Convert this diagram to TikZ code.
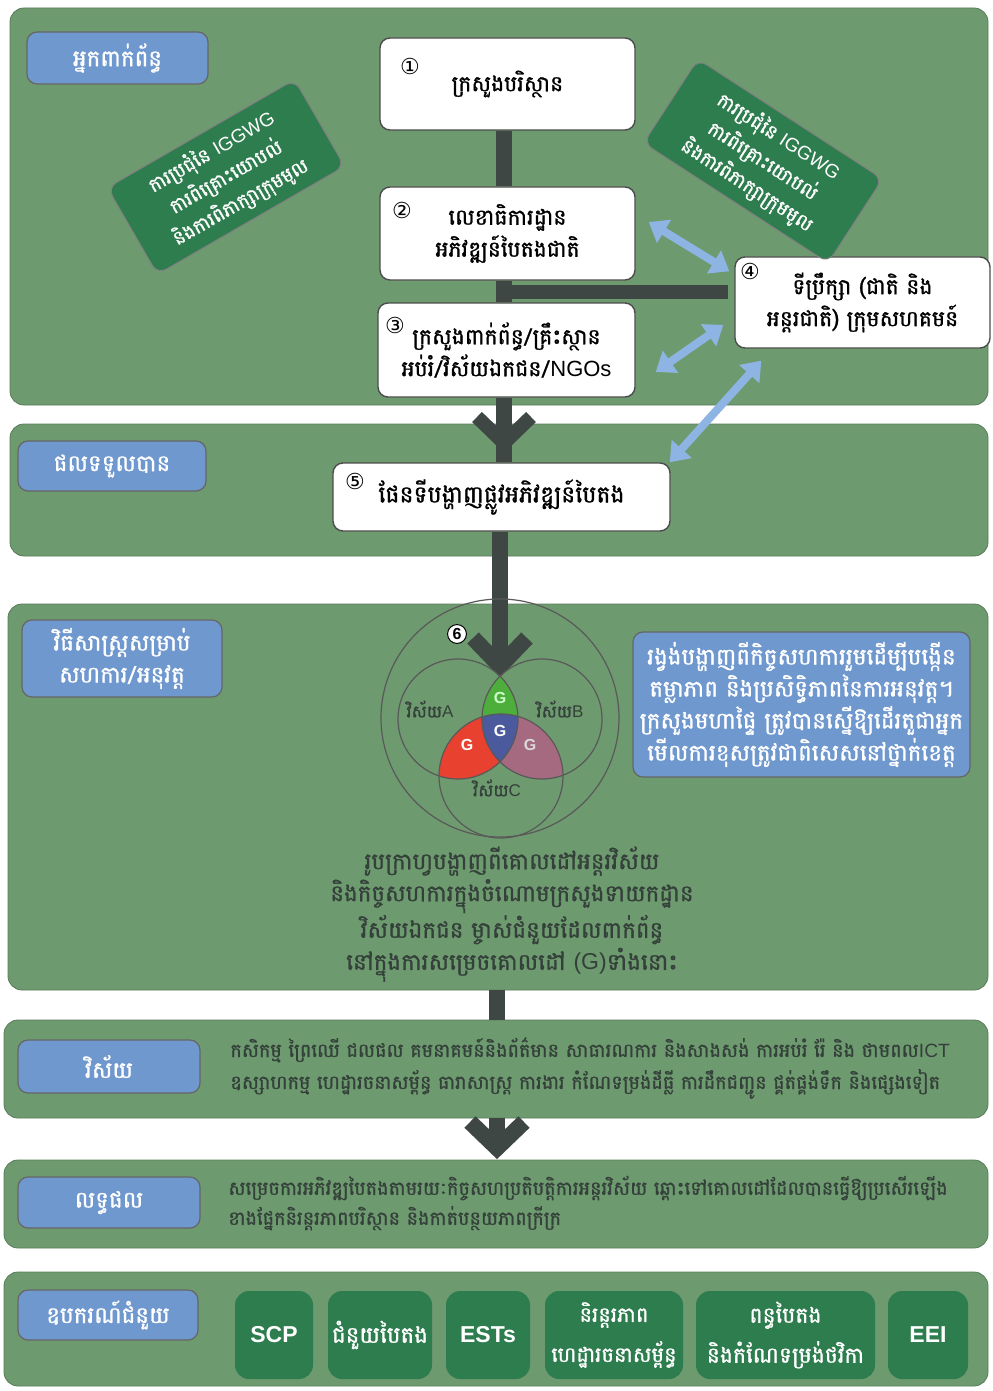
\documentclass[tikz,border=0pt]{standalone}
\usepackage{fontspec}
\setmainfont{Liberation Sans}
\newfontfamily\kh[Script=Khmer,FakeBold=1.2]{Battambang}
\newfontfamily\circfont{DejaVu Sans}
\newcommand\lat[1]{{\normalfont #1}}
\usetikzlibrary{arrows.meta}
\definecolor{pgreen}{HTML}{6E9A6F}
\definecolor{lblue}{HTML}{6F98CF}
\definecolor{dgreen}{HTML}{2E7D4F}
\definecolor{dline}{HTML}{3F4744}
\definecolor{abl}{HTML}{8DB4E2}
\definecolor{txtd}{HTML}{34413A}
\definecolor{vgreen}{HTML}{4DAE3C}
\definecolor{vblue}{HTML}{4A5A9C}
\definecolor{vred}{HTML}{E8412F}
\definecolor{vmauve}{HTML}{A56A80}
\begin{document}
\begin{tikzpicture}[x=0.5pt,y=-0.5pt,
 panel/.style={fill=pgreen, draw=pgreen!80!black, line width=0.4pt, rounded corners=7pt, inner sep=0pt},
 lab/.style={fill=lblue, draw=black!60, line width=0.6pt, rounded corners=5pt, text=white, inner sep=0pt, align=center, font=\kh\fontsize{11.5}{16}\selectfont},
 wbox/.style={fill=white, draw=black!70, line width=0.7pt, rounded corners=5pt, inner sep=0pt, align=center, font=\kh\fontsize{11}{16}\selectfont},
 gbox/.style={fill=dgreen, draw=black!50, line width=0.5pt, rounded corners=5pt, text=white, inner sep=0pt, align=center, font=\kh\fontsize{9.5}{14.5}\selectfont},
 tool/.style={fill=dgreen, rounded corners=7pt, text=white, inner sep=0pt, align=center, minimum height=44pt, font=\kh\fontsize{11.5}{20}\selectfont},
 num/.style={font=\circfont\fontsize{11}{11}\selectfont, inner sep=0pt},
 dk/.style={draw=dline, line width=8pt},
 chev/.style={draw=dline, line width=7pt, line join=miter, line cap=butt},
 barrow/.style={draw=abl, line width=4pt, {Triangle[length=9pt,width=13pt]}-{Triangle[length=9pt,width=13pt]}},
 body/.style={text=txtd, inner sep=0pt, font=\kh\fontsize{9.8}{16}\selectfont},
 vc/.style={draw=black!65, line width=0.6pt},
 gl/.style={font=\bfseries\fontsize{8}{8}\selectfont, text=white, inner sep=0pt},
 vl/.style={font=\kh\fontsize{8.5}{10}\selectfont, text=txtd, inner sep=0pt}
]
\useasboundingbox (0,0) rectangle (992,1391);
\fill[white] (0,0) rectangle (992,1391);

% panels
\node[panel, minimum width=489pt, minimum height=198.5pt] (p1) at (499,206.5) {};
\node[panel, minimum width=489pt, minimum height=66pt] (p2) at (499,490) {};
\node[panel, minimum width=490pt, minimum height=193pt] (p3) at (498,797) {};
\node[panel, minimum width=492pt, minimum height=49pt] (p4) at (496,1069) {};
\node[panel, minimum width=492pt, minimum height=44pt] (p5) at (496,1204) {};
\node[panel, minimum width=492pt, minimum height=57pt] (p6) at (496,1329) {};

% labels
\node[lab, minimum width=90.5pt, minimum height=26pt] (l1) at (117.5,58) {អ្នកពាក់ព័ន្ធ};
\node[lab, minimum width=94pt, minimum height=25pt] (l2) at (112,466) {ផលទទួលបាន};
\node[lab, minimum width=100pt, minimum height=38.5pt] (l3) at (122,658.5) {វិធីសាស្ត្រសម្រាប់\\សហការ/អនុវត្ត};
\node[lab, minimum width=91pt, minimum height=26.5pt] (l4) at (109,1066.5) {វិស័យ};
\node[lab, minimum width=91pt, minimum height=25.5pt] (l5) at (109,1202.5) {លទ្ធផល};
\node[lab, minimum width=90pt, minimum height=25pt] (l6) at (108,1315) {ឧបករណ៍ជំនួយ};

\coordinate (j1) at (504,292);
\coordinate (vtop) at (500,668);
\coordinate (cx) at (497,0);

% white boxes
\node[wbox, minimum width=127.5pt, minimum height=46pt] (b1) at (507.5,84) {ក្រសួងបរិស្ថាន};
\node[wbox, minimum width=127.5pt, minimum height=46.5pt] (b2) at (507.5,233.5) {លេខាធិការដ្ឋាន\\អភិវឌ្ឍន៍បៃតងជាតិ};
\node[wbox, minimum width=128.5pt, minimum height=47pt] (b3) at (506.5,350) {ក្រសួងពាក់ព័ន្ធ/គ្រឹះស្ថាន\\អប់រំ/វិស័យឯកជន/\lat{NGOs}};
\node[wbox, minimum width=127.5pt, minimum height=45.5pt] (b4) at (862.5,302.5) {ទីប្រឹក្សា (ជាតិ និង\\អន្តរជាតិ) ក្រុមសហគមន៍};
\node[wbox, minimum width=168.5pt, minimum height=34pt, font=\kh\fontsize{11.8}{16}\selectfont] (b5) at (501.5,497) {ផែនទីបង្ហាញផ្លូវអភិវឌ្ឍន៍បៃតង};

% dark connectors
\draw[dk] (j1 |- b1.south) -- (j1 |- b2.north);
\draw[dk] (j1 |- b2.south) -- (j1 |- b3.north);
\draw[draw=dline, line width=7pt, shorten >=3pt] (j1) -- (j1 -| b4.west);
\draw[dk] (j1 |- b3.south) -- (j1 |- b5.north);
\draw[chev] (477,417) -- (504,443) -- (531,417);
\draw[dk] (vtop |- b5.south) -- (vtop);
\draw[chev, line width=8pt] (473,638) -- (500,666) -- (527,638);
\draw[dk] (cx |- p3.south) -- (cx |- p4.north);
\draw[dk] (cx |- p4.south) -- (497,1140);
\draw[chev, line width=8pt] (470,1122) -- (497,1148) -- (524,1122);

% circled numbers
\node[num] (n1) at (410,66) {①};
\node[num] (n2) at (402,210) {②};
\node[num] (n3) at (395,325) {③};
\node[num] (n4) at (750,271) {④};
\node[num] (n5) at (355,481) {⑤};

% blue double arrows
\draw[barrow] ([xshift=6.5pt,yshift=5.75pt]b2.east) -- ([xshift=-2.5pt,yshift=-7.5pt]b4.north west);
\draw[barrow] ([xshift=10pt,yshift=-11pt]b3.east) -- ([xshift=-5.5pt,yshift=-11.25pt]b4.west);
\draw[barrow] ([xshift=-0.5pt,yshift=0pt]b5.north east) -- ([xshift=13.5pt,yshift=-6pt]b4.south west);

% rotated green boxes
\node[gbox, rotate=30, minimum width=108pt, minimum height=50pt] (g1) at (226,177)
 {ការប្រជុំនៃ \lat{IGGWG}\\ការពិគ្រោះយោបល់\\និងការពិភាក្សាក្រុមមូល};
\node[gbox, rotate=-33, minimum width=110pt, minimum height=50pt] (g2) at (763,161)
 {ការប្រជុំនៃ \lat{IGGWG}\\ការពិគ្រោះយោបល់\\និងការពិភាក្សាក្រុមមូល};

% Venn
\coordinate (ca) at (458,719);
\coordinate (cb) at (542,719);
\coordinate (cc) at (501,776);
\begin{scope}
 \clip (ca) circle[radius=60];
 \fill[vgreen] (cb) circle[radius=60];
 \fill[vred] (cc) circle[radius=62];
\end{scope}
\begin{scope}
 \clip (cb) circle[radius=60];
 \fill[vmauve] (cc) circle[radius=62];
\end{scope}
\begin{scope}
 \clip (ca) circle[radius=60];
 \clip (cb) circle[radius=60];
 \fill[vblue] (cc) circle[radius=62];
\end{scope}
\draw[vc] (500,718) circle[radius=119];
\draw[vc] (ca) circle[radius=60];
\draw[vc] (cb) circle[radius=60];
\draw[vc] (cc) circle[radius=62];
\node[circle, fill=white, draw=black, line width=0.5pt, inner sep=0.8pt, font=\bfseries\fontsize{8}{8}\selectfont] (n6) at (457,634) {6};
\node[gl, text=green!20!white] (ga) at (500,698) {G};
\node[gl] (gb) at (500,731) {G};
\node[gl] (gc) at (467,745) {G};
\node[gl, text=black!15] (gd) at (530,745) {G};
\node[vl] (va) at (430,709) {វិស័យ\lat{A}};
\node[vl] (vb) at (560,709) {វិស័យ\lat{B}};
\node[vl] (vcc) at (497,788) {វិស័យ\lat{C}};

% blue description box
\node[lab, minimum width=168.5pt, minimum height=72.5pt, font=\kh\fontsize{11.5}{16}\selectfont] (d1) at (801.5,704.5)
 {រង្វង់បង្ហាញពីកិច្ចសហការរួមដើម្បីបង្កើន\\តម្លាភាព និងប្រសិទ្ធិភាពនៃការអនុវត្ត។\\ក្រសួងមហាផ្ទៃ ត្រូវបានស្នើឱ្យដើរតួជាអ្នក\\មើលការខុសត្រូវជាពិសេសនៅថ្នាក់ខេត្ត};

% methods text
\node[body, align=center, font=\kh\fontsize{11.5}{16}\selectfont] (mt) at (512,914)
 {រូបក្រាហ្វបង្ហាញពីគោលដៅអន្តរវិស័យ\\និងកិច្ចសហការក្នុងចំណោមក្រសួងទាយកដ្ឋាន\\វិស័យឯកជន ម្ចាស់ជំនួយដែលពាក់ព័ន្ធ\\នៅក្នុងការសម្រេចគោលដៅ \lat{(G)}ទាំងនោះ};

% sector text
\node[body, align=left, anchor=west, font=\kh\fontsize{9.6}{16}\selectfont] (st) at (230,1068)
 {កសិកម្ម ព្រៃឈើ ជលផល គមនាគមន៍និងព័ត៌មាន សាធារណការ និងសាងសង់ ការអប់រំ រ៉ែ និង ថាមពល\lat{ICT}\\ឧស្សាហកម្ម ហេដ្ឋារចនាសម្ព័ន្ធ ធារាសាស្ត្រ ការងារ កំណែទម្រង់ដីធ្លី ការដឹកជញ្ជូន ផ្គត់ផ្គង់ទឹក និងផ្សេងទៀត};

% result text
\node[body, align=left, anchor=west, font=\kh\fontsize{9.6}{15}\selectfont] (rt) at (228,1203)
 {សម្រេចការអភិវឌ្ឍបៃតងតាមរយៈកិច្ចសហប្រតិបត្តិការអន្តរវិស័យ ឆ្ពោះទៅគោលដៅដែលបានធ្វើឱ្យប្រសើរឡើង\\ខាងផ្នែកនិរន្តរភាពបរិស្ថាន និងកាត់បន្ថយភាពក្រីក្រ};

% tools
\node[tool, minimum width=39pt] (t1) at (274,1335) {\lat{\bfseries SCP}};
\node[tool, minimum width=52pt] (t2) at (380,1335) {ជំនួយបៃតង};
\node[tool, minimum width=42pt] (t3) at (488,1335) {\lat{\bfseries ESTs}};
\node[tool, minimum width=69pt, font=\kh\fontsize{10.5}{20}\selectfont] (t4) at (614,1335) {និរន្តរភាព\\ហេដ្ឋារចនាសម្ព័ន្ធ};
\node[tool, minimum width=89.5pt, font=\kh\fontsize{11}{20}\selectfont] (t5) at (785.5,1335) {ពន្ធបៃតង\\និងកំណែទម្រង់ថវិកា};
\node[tool, minimum width=40pt] (t6) at (928,1335) {\lat{\bfseries EEI}};
\end{tikzpicture}
\end{document}
